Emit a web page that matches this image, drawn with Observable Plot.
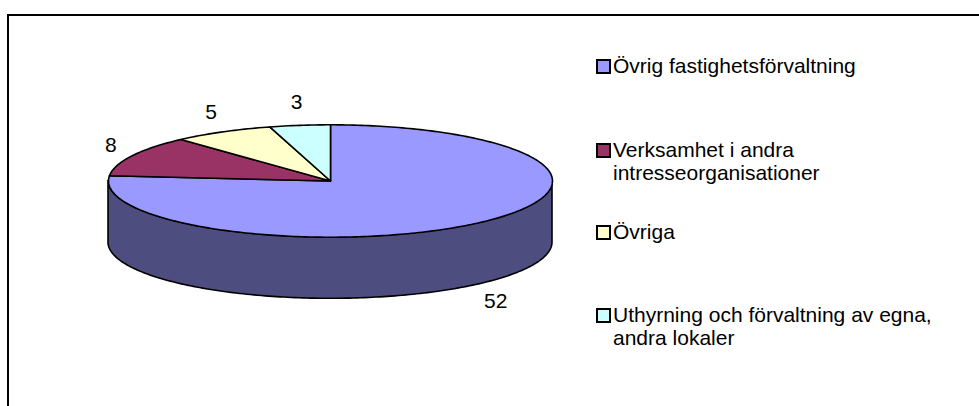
<!DOCTYPE html>
<html>
<head>
<meta charset="utf-8">
<script src="https://cdn.jsdelivr.net/npm/d3@7"></script>
<script src="https://cdn.jsdelivr.net/npm/@observablehq/plot@0.6"></script>
<style>
  html, body { margin: 0; padding: 0; background: #fff; }
  #wrap { position: relative; width: 979px; height: 406px; overflow: hidden; font-family: "Liberation Sans", Arial, sans-serif; }
  #chart { position: absolute; left: 0; top: 0; }
  #frame { position: absolute; left: 7px; top: 14px; width: 1100px; height: 600px; border: 2px solid #000; pointer-events: none; box-sizing: border-box; }
  .leg { position: absolute; left: 596px; font-size: 21px; line-height: 23px; color: #000; white-space: nowrap; }
  .leg .sw { position: absolute; left: 0; width: 11px; height: 11px; border: 2px solid #000; }
  .leg .tx { position: absolute; left: 17px; top: 0; }
</style>
</head>
<body>
<div id="wrap">
  <div id="chart"></div>
  <div id="frame"></div>
  <div id="legend"></div>
</div>
<script>
// ---- data ----
const categories = [
  "Övrig fastighetsförvaltning",
  "Verksamhet i andra intresseorganisationer",
  "Övriga",
  "Uthyrning och förvaltning av egna, andra lokaler"
];
const legendLines = [
  ["Övrig fastighetsförvaltning"],
  ["Verksamhet i andra", "intresseorganisationer"],
  ["Övriga"],
  ["Uthyrning och förvaltning av egna,", "andra lokaler"]
];
const values = [52, 8, 5, 3];
const colors = ["#9999FF", "#993366", "#FFFFCC", "#CCFFFF"];
const sideColors = ["#4D4D80", "#4D1A33", "#808066", "#668080"];

// ---- geometry (unit ellipse, tilt handled by scales) ----
const depth = 1.096;           // wall height in y-units
const total = d3.sum(values);
const rad = Math.PI / 180;
let start = 90;                 // start at 12 o'clock, go clockwise
const slices = values.map((v, i) => {
  const sweep = v / total * 360;
  const s = { i, v, a0: start, a1: start - sweep, mid: start - sweep / 2 };
  start -= sweep;
  return s;
});

// top polygons
const topPts = [];
for (const s of slices) {
  topPts.push({ k: s.i, x: 0, y: 0 });
  const n = Math.max(2, Math.ceil(Math.abs(s.a0 - s.a1)));
  for (let j = 0; j <= n; j++) {
    const a = (s.a0 + (s.a1 - s.a0) * j / n) * rad;
    topPts.push({ k: s.i, x: Math.cos(a), y: Math.sin(a) });
  }
}

// front walls (angles between -180 and 0 that belong to each slice)
const wallMarks = [];
for (const s of slices) {
  const hi = s.a0, lo = s.a1;
  const segs = [];
  for (const shift of [0, -360, 360]) {
    const a = Math.min(hi + shift, 0), b = Math.max(lo + shift, -180);
    if (a > b) segs.push([b, a]);
  }
  for (const [b, a] of segs) {
    const pts = [];
    const n = Math.max(2, Math.ceil(a - b));
    for (let j = 0; j <= n; j++) {
      const ang = (b + (a - b) * j / n) * rad;
      pts.push({ x: Math.cos(ang), y1: Math.sin(ang), y2: Math.sin(ang) - depth });
    }
    wallMarks.push(Plot.areaY(pts, { x: "x", y1: "y1", y2: "y2", fill: sideColors[s.i], stroke: "#000", strokeWidth: 1.6 }));
  }
}

// labels
const offX = 0.105, offY = 0.41;
const labels = slices.map(s => {
  const c = Math.cos(s.mid * rad), sn = Math.sin(s.mid * rad);
  return {
    text: String(s.v),
    x: c * (1 + offX),
    y: sn * (1 + offY) - (sn < 0 ? depth : 0)
  };
});

const topMarks = slices.map(s =>
  Plot.line(topPts.filter(p => p.k === s.i), {
    x: "x", y: "y", curve: "linear-closed",
    fill: colors[s.i], stroke: "#000", strokeWidth: 1.6, strokeLinejoin: "round"
  })
);

const chart = Plot.plot({
  width: 979,
  height: 406,
  margin: 0,
  style: { background: "transparent", overflow: "visible" },
  x: { domain: [-1, 1], range: [108, 552], axis: null },
  y: { domain: [-1, 1], range: [236.7, 124.3], axis: null },
  marks: [
    ...wallMarks,
    ...topMarks,
    Plot.text(labels, {
      x: "x", y: "y", text: "text",
      fontSize: 21, fontFamily: "Liberation Sans, Arial, sans-serif",
      fill: "#000", textAnchor: "middle", lineAnchor: "middle"
    })
  ]
});
document.getElementById("chart").appendChild(chart);

// legend
const rowTops = [54, 138, 220, 303];
const legend = document.getElementById("legend");
legendLines.forEach((lines, i) => {
  const d = document.createElement("div");
  d.className = "leg";
  d.style.top = rowTops[i] + "px";
  const sw = document.createElement("div");
  sw.className = "sw";
  sw.style.background = colors[i];
  sw.style.top = "5px";
  d.appendChild(sw);
  const t = document.createElement("div");
  t.className = "tx";
  t.innerHTML = lines.join("<br>");
  d.appendChild(t);
  legend.appendChild(d);
});
</script>
</body>
</html>
